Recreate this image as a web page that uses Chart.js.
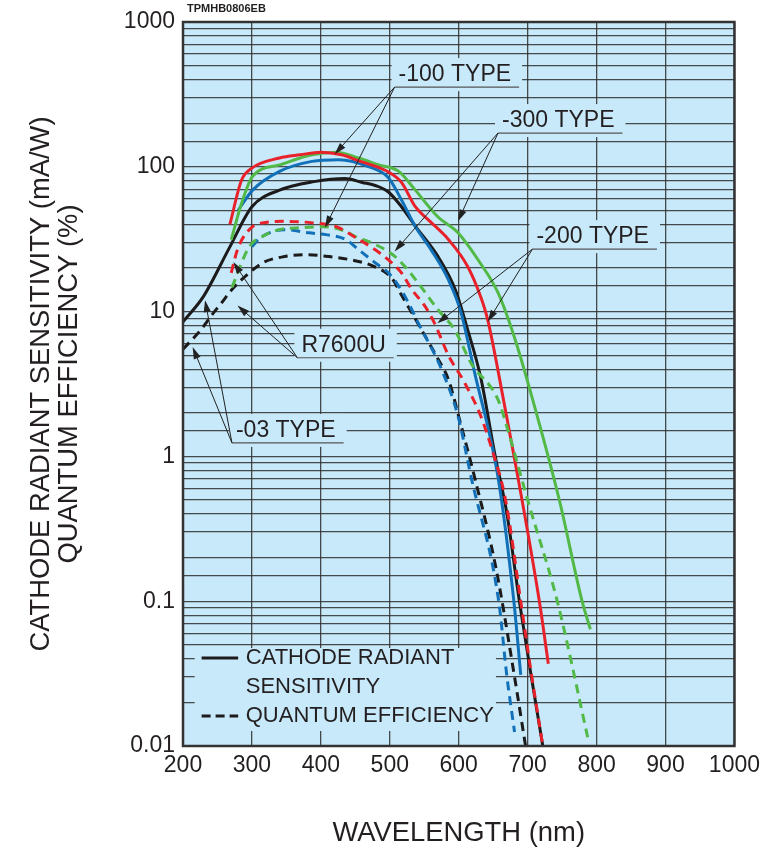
<!DOCTYPE html>
<html>
<head>
<meta charset="utf-8">
<script src="https://cdn.jsdelivr.net/npm/chart.js@4.4.1/dist/chart.umd.min.js"></script>
<style>
  html, body { margin: 0; padding: 0; background: #fff; }
  #wrap { width: 766px; height: 852px; position: relative; }
</style>
</head>
<body>
<div id="wrap"><canvas id="spectralChart"></canvas></div>
<script>
// Données (longueur d'onde en nm, valeur en mA/W ou %)
const blackSolidNm = [200, 230, 268, 300, 340, 390, 435, 460, 480, 498, 517, 537, 570, 595, 613, 632, 653, 670, 688, 704, 722];
const blackSolidVal = [8.5, 12.8, 28, 53, 69, 79, 83, 78, 74, 67, 53, 39, 24, 14.2, 7.5, 3.5, 1.0, 0.4, 0.1, 0.033, 0.01];

const blackDashNm = [200, 225, 242, 256, 271, 296, 318, 347, 378, 412, 443, 477, 503, 517, 532, 546, 570, 585, 604, 623, 654, 681, 697];
const blackDashVal = [5.5, 7.4, 9.5, 11.5, 14.2, 18.5, 22, 24, 24.7, 24, 22.8, 20.5, 17, 13, 9.8, 7.5, 4.7, 3.4, 1.6, 0.72, 0.17, 0.03, 0.01];

const redSolidNm = [268, 285, 300, 340, 370, 400, 430, 455, 500, 517, 537, 556, 585, 613, 632, 642, 664, 717, 730];
const redSolidVal = [40, 81, 98, 115, 121, 126, 121, 110, 91, 78, 53, 43, 31.5, 20.5, 12.6, 8.8, 2.6, 0.1, 0.037];

const redDashNm = [270, 279, 296, 315, 349, 388, 422, 455, 479, 503, 517, 532, 551, 565, 585, 609, 632, 650, 668, 690, 704, 722];
const redDashVal = [18.5, 26.8, 36.8, 41, 42, 41, 38.6, 31.5, 26.7, 21.7, 18.5, 14.2, 10.9, 8.3, 5, 3.2, 1.9, 1.05, 0.5, 0.1, 0.035, 0.01];

const greenSolidNm = [270, 285, 301, 340, 387, 422, 455, 484, 513, 537, 570, 599, 628, 657, 681, 707, 746, 779, 791];
const greenSolidVal = [31.4, 56, 86, 103, 121, 126, 115, 103, 93, 69, 45, 35, 22.8, 13.5, 6.6, 2.5, 0.5, 0.1, 0.064];

const greenDashNm = [271, 296, 315, 340, 373, 402, 436, 450, 474, 503, 522, 541, 570, 594, 618, 657, 671, 700, 743, 788];
const greenDashVal = [14.7, 28, 33, 36.8, 38, 38.6, 35.8, 33, 29.8, 25, 20.5, 15.8, 10.3, 7.5, 4.4, 2.47, 1.54, 0.5, 0.1, 0.011];

const blueSolidNm = [280, 301, 340, 387, 426, 470, 498, 517, 537, 560, 585, 603, 623, 657, 680, 690];
const blueSolidVal = [50, 69, 93, 109, 112, 100, 84, 59, 38.7, 26.7, 16.6, 10, 3.8, 0.72, 0.1, 0.031];

const blueDashNm = [300, 311, 347, 383, 407, 436, 455, 479, 498, 513, 527, 541, 575, 599, 618, 658, 670, 681];
const blueDashVal = [28, 32, 36.8, 35, 34, 31.5, 26.7, 21.7, 18.5, 15, 11.5, 8.4, 4, 1.9, 0.72, 0.1, 0.03, 0.0125];

const yTickLabels = ["0.01", "0.1", "1", "10", "100", "1000"];

// Étiquettes et flèches (en unités de données)
const labelTexts = ["-100 TYPE", "-300 TYPE", "-200 TYPE", "R7600U", "-03 TYPE"];
const labelNm = [507, 657, 707, 366, 271];
const labelVal = [355, 171, 27, 4.8, 1.24];
const arrowTargets = [
  [[420, 122], [406, 38]],
  [[599, 42], [507, 26]],
  [[642, 8.5], [569, 8.3]],
  [[273, 22], [279, 11]],
  [[232, 12], [214, 5.7]],
];

// Couleurs
const fond = "#c8e9f9";
const colRed = "#e8212b";
const colGreen = "#52b947";
const colBlue = "#1170b8";
const colBlack = "#1c1a1a";
const colText = "#231f20";
const police = "'Liberation Sans', Arial, Helvetica, sans-serif";

const pts = (nm, val) => nm.map((x, i) => ({ x: x, y: val[i] }));

function serie(label, nm, val, color, dashed) {
  return {
    label: label,
    data: pts(nm, val),
    borderColor: color,
    borderWidth: 3,
    borderDash: dashed ? [9, 6] : [],
    pointRadius: 0,
    fill: false,
    cubicInterpolationMode: "monotone",
  };
}

function fleche(ctx, x0, y0, x1, y1) {
  const ang = Math.atan2(y1 - y0, x1 - x0);
  const L = 12, W = 3.6;
  const c = Math.cos(ang), s = Math.sin(ang);
  ctx.beginPath();
  ctx.moveTo(x0, y0);
  ctx.lineTo(x1 - L * 0.8 * c, y1 - L * 0.8 * s);
  ctx.stroke();
  ctx.beginPath();
  ctx.moveTo(x1, y1);
  ctx.lineTo(x1 - L * c + W * s, y1 - L * s - W * c);
  ctx.lineTo(x1 - L * c - W * s, y1 - L * s + W * c);
  ctx.closePath();
  ctx.fill();
}

const pluginFigure = {
  id: "figure",
  beforeDraw(chart) {
    const { ctx, chartArea: a } = chart;
    ctx.save();
    ctx.fillStyle = fond;
    ctx.fillRect(a.left, a.top, a.right - a.left, a.bottom - a.top);
    ctx.restore();
  },
  beforeDatasetsDraw(chart) {
    const { ctx } = chart;
    const sx = chart.scales.x, sy = chart.scales.y;
    ctx.save();
    ctx.fillStyle = fond;
    // cadre de la légende
    const lx0 = sx.getPixelForValue(217), lx1 = sx.getPixelForValue(654);
    const ly0 = sy.getPixelForValue(0.0475), ly1 = sy.getPixelForValue(0.0127);
    ctx.fillRect(lx0, ly0, lx1 - lx0, ly1 - ly0);
    // fonds des étiquettes
    ctx.font = "23px " + police;
    labelTexts.forEach((t, i) => {
      const ax = sx.getPixelForValue(labelNm[i]);
      const ay = sy.getPixelForValue(labelVal[i]);
      const w = ctx.measureText(t).width;
      ctx.fillRect(ax - 3, ay - 29, w + 18, 33);
    });
    ctx.restore();
  },
  afterDatasetsDraw(chart) {
    const { ctx, chartArea: a } = chart;
    const sx = chart.scales.x, sy = chart.scales.y;
    ctx.save();
    // cadre du graphique
    ctx.strokeStyle = "#333";
    ctx.lineWidth = 2.5;
    ctx.strokeRect(a.left, a.top, a.right - a.left, a.bottom - a.top);

    // étiquettes, soulignements et flèches
    ctx.font = "23px " + police;
    ctx.textBaseline = "alphabetic";
    ctx.textAlign = "left";
    labelTexts.forEach((t, i) => {
      const ax = sx.getPixelForValue(labelNm[i]);
      const ay = sy.getPixelForValue(labelVal[i]);
      const w = ctx.measureText(t).width;
      ctx.fillStyle = colText;
      ctx.fillText(t, ax + 4, ay - 6);
      ctx.strokeStyle = "#555";
      ctx.lineWidth = 1.2;
      ctx.beginPath();
      ctx.moveTo(ax, ay);
      ctx.lineTo(ax + w + 12, ay);
      ctx.stroke();
      ctx.strokeStyle = "#222";
      ctx.fillStyle = "#222";
      ctx.lineWidth = 1;
      arrowTargets[i].forEach(([n, v]) => {
        fleche(ctx, ax, ay, sx.getPixelForValue(n), sy.getPixelForValue(v));
      });
    });

    // légende
    const x0 = sx.getPixelForValue(227), x1 = sx.getPixelForValue(280);
    const xt = sx.getPixelForValue(291);
    const y1 = sy.getPixelForValue(0.0405);
    const y2 = sy.getPixelForValue(0.0257);
    const y3 = sy.getPixelForValue(0.0161);
    ctx.strokeStyle = colBlack;
    ctx.lineWidth = 3;
    ctx.beginPath();
    ctx.moveTo(x0, y1);
    ctx.lineTo(x1, y1);
    ctx.stroke();
    ctx.setLineDash([9, 5]);
    ctx.beginPath();
    ctx.moveTo(x0, y3);
    ctx.lineTo(x1, y3);
    ctx.stroke();
    ctx.setLineDash([]);
    ctx.fillStyle = colText;
    ctx.font = "22px " + police;
    ctx.textBaseline = "middle";
    ctx.fillText("CATHODE RADIANT", xt, y1);
    ctx.fillText("SENSITIVITY", xt, y2);
    ctx.fillText("QUANTUM EFFICIENCY", xt, y3);

    // référence de la figure
    ctx.font = "bold 11px " + police;
    ctx.fillText("TPMHB0806EB", a.left + 4, a.top - 13);
    ctx.restore();
  },
};

new Chart(document.getElementById("spectralChart"), {
  type: "line",
  data: {
    datasets: [
      serie("-100 QE", redDashNm, redDashVal, colRed, true),
      serie("-300 QE", greenDashNm, greenDashVal, colGreen, true),
      serie("-200 QE", blueDashNm, blueDashVal, colBlue, true),
      serie("R7600U QE", blackDashNm, blackDashVal, colBlack, true),
      serie("-100 S", redSolidNm, redSolidVal, colRed, false),
      serie("-300 S", greenSolidNm, greenSolidVal, colGreen, false),
      serie("-200 S", blueSolidNm, blueSolidVal, colBlue, false),
      serie("R7600U S", blackSolidNm, blackSolidVal, colBlack, false),
    ],
  },
  options: {
    responsive: true,
    maintainAspectRatio: false,
    animation: false,
    layout: { padding: { left: 0, top: 22, right: 28, bottom: 0 } },
    plugins: {
      legend: { display: false },
      tooltip: { enabled: false },
    },
    scales: {
      x: {
        type: "linear",
        min: 200,
        max: 1000,
        afterFit: (s) => { s.height = 106; },
        ticks: {
          stepSize: 100,
          padding: 6,
          color: colText,
          font: { family: police, size: 23 },
          callback: (v) => String(v),
        },
        grid: { color: "rgba(45,45,45,0.85)", lineWidth: 1.3, drawTicks: false },
        border: { display: false },
        title: {
          display: true,
          text: "WAVELENGTH (nm)",
          color: colText,
          font: { family: police, size: 27.4, lineHeight: 1.0 },
          padding: { top: 0, bottom: 5 },
        },
      },
      y: {
        type: "logarithmic",
        min: 0.01,
        max: 1000,
        afterFit: (s) => { s.width = 183; },
        ticks: {
          autoSkip: false,
          padding: 8,
          color: colText,
          font: { family: police, size: 23 },
          callback: (v) => {
            const l = Math.log10(v);
            if (Math.abs(l - Math.round(l)) > 1e-6) return "";
            return yTickLabels[Math.round(l) + 2] || "";
          },
        },
        grid: { color: "rgba(45,45,45,0.85)", lineWidth: 1.3, drawTicks: false },
        border: { display: false },
        title: {
          display: true,
          text: ["CATHODE RADIANT SENSITIVITY (mA/W)", "QUANTUM EFFICIENCY (%)"],
          color: colText,
          font: { family: police, size: 27.4, lineHeight: 1.0 },
          padding: { top: 28, bottom: 0 },
        },
      },
    },
  },
  plugins: [pluginFigure],
});
</script>
</body>
</html>
